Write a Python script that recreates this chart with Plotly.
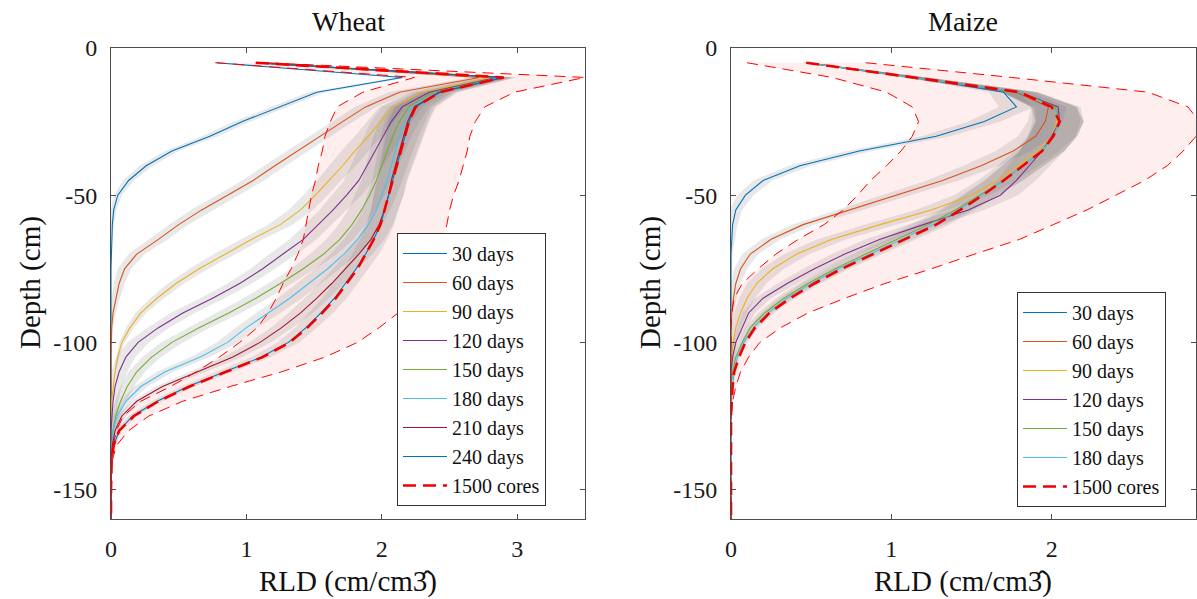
import plotly.graph_objects as go

# ---------------- data ----------------
depth = [-5, -10, -15, -20, -25, -30, -35, -40, -45, -50, -55, -60, -65, -70, -75, -80,
         -85, -90, -95, -100, -105, -110, -115, -120, -125, -130, -135, -140, -145, -150, -155, -160]

wheat_names = ["30 days", "60 days", "90 days", "120 days", "150 days", "180 days", "210 days", "240 days"]
maize_names = ["30 days", "60 days", "90 days", "120 days", "150 days", "180 days"]

w30 = [0.78, 2.15, 1.52, 1.24, 0.97, 0.73, 0.45, 0.26, 0.13, 0.05, 0.02, 0.01, 0.005, 0, 0, 0,
       0, 0, 0, 0, 0, 0, 0, 0, 0, 0, 0, 0, 0, 0, 0, 0]
w60 = [1.07, 2.72, 2.13, 1.88, 1.71, 1.54, 1.38, 1.21, 1.05, 0.86, 0.67, 0.50, 0.35, 0.19, 0.10, 0.06,
       0.035, 0.015, 0.005, 0, 0, 0, 0, 0, 0, 0, 0, 0, 0, 0, 0, 0]
w90 = [1.07, 2.80, 2.30, 2.08, 1.99, 1.90, 1.80, 1.71, 1.61, 1.51, 1.40, 1.25, 1.04, 0.84, 0.65, 0.48,
       0.34, 0.22, 0.14, 0.08, 0.05, 0.03, 0.015, 0.005, 0, 0, 0, 0, 0, 0, 0, 0]
w120 = [1.07, 2.85, 2.35, 2.15, 2.07, 2.01, 1.95, 1.89, 1.83, 1.74, 1.64, 1.53, 1.42, 1.27, 1.12, 0.95,
        0.75, 0.53, 0.35, 0.20, 0.11, 0.06, 0.03, 0.015, 0.005, 0, 0, 0, 0, 0, 0, 0]
w150 = [1.07, 2.87, 2.38, 2.20, 2.13, 2.08, 2.04, 2.00, 1.96, 1.91, 1.85, 1.78, 1.69, 1.57, 1.42, 1.25,
        1.07, 0.87, 0.65, 0.45, 0.30, 0.19, 0.12, 0.07, 0.035, 0.015, 0.005, 0, 0, 0, 0, 0]
w180 = [1.07, 2.88, 2.40, 2.22, 2.17, 2.13, 2.10, 2.07, 2.04, 2.00, 1.96, 1.90, 1.82, 1.72, 1.60, 1.46,
        1.32, 1.16, 1.00, 0.86, 0.66, 0.40, 0.22, 0.11, 0.045, 0.015, 0.005, 0, 0, 0, 0, 0]
w210 = [1.07, 2.90, 2.42, 2.24, 2.19, 2.16, 2.13, 2.10, 2.07, 2.05, 2.02, 1.98, 1.92, 1.83, 1.73, 1.63,
        1.52, 1.40, 1.26, 1.10, 0.90, 0.64, 0.38, 0.19, 0.08, 0.03, 0.01, 0, 0, 0, 0, 0]
w240 = [1.07, 2.90, 2.43, 2.25, 2.20, 2.17, 2.14, 2.11, 2.08, 2.05, 2.02, 1.99, 1.94, 1.88, 1.81, 1.73,
        1.65, 1.55, 1.44, 1.31, 1.11, 0.84, 0.57, 0.34, 0.16, 0.06, 0.02, 0.005, 0, 0, 0, 0]
w_cores = [1.07, 2.90, 2.43, 2.25, 2.20, 2.17, 2.14, 2.11, 2.08, 2.05, 2.02, 1.99, 1.94, 1.88, 1.82, 1.74,
           1.66, 1.56, 1.45, 1.32, 1.12, 0.85, 0.58, 0.35, 0.17, 0.06, 0.02, 0.005, 0, 0, 0, 0]
w_lo = [0.77, 2.24, 1.86, 1.67, 1.62, 1.58, 1.56, 1.53, 1.51, 1.48, 1.46, 1.44, 1.42, 1.38, 1.33, 1.27,
        1.22, 1.16, 1.08, 0.95, 0.80, 0.63, 0.44, 0.22, 0.09, 0.04, 0.015, 0.005, 0, 0, 0, 0]
w_hi = [1.15, 3.50, 2.98, 2.76, 2.69, 2.65, 2.63, 2.60, 2.57, 2.53, 2.50, 2.48, 2.45, 2.41, 2.36, 2.30,
        2.22, 2.12, 1.98, 1.82, 1.58, 1.26, 0.88, 0.53, 0.28, 0.13, 0.04, 0.01, 0, 0, 0, 0]

# spread (half-width of grey bands)
sd_w30 = [0.02, 0.05, 0.06, 0.06, 0.06, 0.06, 0.05, 0.05, 0.04, 0.03, 0.02, 0.01, 0.005, 0, 0, 0,
          0, 0, 0, 0, 0, 0, 0, 0, 0, 0, 0, 0, 0, 0, 0, 0]
sd_w60 = [0.02, 0.07, 0.08, 0.08, 0.08, 0.08, 0.08, 0.08, 0.08, 0.08, 0.08, 0.07, 0.07, 0.06, 0.05, 0.04,
          0.03, 0.02, 0.01, 0.005, 0, 0, 0, 0, 0, 0, 0, 0, 0, 0, 0, 0]
sd_w90 = [0.02, 0.08, 0.10, 0.10, 0.10, 0.10, 0.10, 0.10, 0.09, 0.09, 0.09, 0.09, 0.08, 0.08, 0.07, 0.06,
          0.05, 0.04, 0.03, 0.02, 0.01, 0.005, 0, 0, 0, 0, 0, 0, 0, 0, 0, 0]
sd_w_late = [0.02, 0.09, 0.13, 0.15, 0.15, 0.14, 0.13, 0.12, 0.11, 0.11, 0.10, 0.10, 0.10, 0.10, 0.09, 0.09,
             0.09, 0.09, 0.08, 0.08, 0.07, 0.06, 0.05, 0.04, 0.03, 0.02, 0.01, 0.005, 0, 0, 0, 0]

m30 = [0.47, 1.15, 1.70, 1.78, 1.58, 1.28, 0.80, 0.43, 0.20, 0.09, 0.03, 0.01, 0.005, 0, 0, 0,
       0, 0, 0, 0, 0, 0, 0, 0, 0, 0, 0, 0, 0, 0, 0, 0]
m60 = [0.47, 1.15, 1.78, 1.98, 1.96, 1.90, 1.76, 1.56, 1.32, 1.03, 0.74, 0.45, 0.25, 0.12, 0.06, 0.03,
       0.015, 0.005, 0, 0, 0, 0, 0, 0, 0, 0, 0, 0, 0, 0, 0, 0]
m90 = [0.47, 1.15, 1.80, 2.02, 2.03, 2.00, 1.91, 1.79, 1.66, 1.50, 1.25, 0.93, 0.63, 0.41, 0.26, 0.16,
       0.10, 0.06, 0.03, 0.015, 0.005, 0, 0, 0, 0, 0, 0, 0, 0, 0, 0, 0]
m120 = [0.47, 1.15, 1.80, 2.04, 2.05, 2.00, 1.94, 1.86, 1.78, 1.68, 1.48, 1.20, 0.93, 0.71, 0.52, 0.35,
        0.20, 0.11, 0.07, 0.03, 0.01, 0, 0, 0, 0, 0, 0, 0, 0, 0, 0, 0]
m150 = [0.47, 1.15, 1.80, 2.02, 2.05, 2.01, 1.94, 1.82, 1.70, 1.55, 1.40, 1.23, 1.03, 0.84, 0.65, 0.48,
        0.33, 0.21, 0.12, 0.07, 0.03, 0.01, 0, 0, 0, 0, 0, 0, 0, 0, 0, 0]
m180 = [0.47, 1.15, 1.80, 2.01, 2.05, 2.01, 1.94, 1.82, 1.70, 1.56, 1.42, 1.26, 1.06, 0.87, 0.67, 0.50,
        0.35, 0.23, 0.14, 0.08, 0.04, 0.02, 0.01, 0, 0, 0, 0, 0, 0, 0, 0, 0]
m_cores = [0.47, 1.15, 1.80, 2.00, 2.05, 2.01, 1.94, 1.82, 1.70, 1.57, 1.43, 1.28, 1.08, 0.89, 0.69, 0.52,
           0.37, 0.24, 0.15, 0.09, 0.05, 0.02, 0.01, 0.005, 0, 0, 0, 0, 0, 0, 0, 0]
m_lo = [0.10, 0.63, 0.97, 1.13, 1.17, 1.13, 1.06, 0.97, 0.87, 0.79, 0.70, 0.58, 0.42, 0.28, 0.17, 0.07,
        0.02, 0.005, 0, 0, 0, 0, 0, 0, 0, 0, 0, 0, 0, 0, 0, 0]
m_hi = [0.84, 1.75, 2.60, 2.85, 2.92, 2.90, 2.82, 2.72, 2.58, 2.40, 2.22, 2.01, 1.80, 1.52, 1.25, 0.96,
        0.71, 0.48, 0.31, 0.18, 0.11, 0.06, 0.03, 0.01, 0, 0, 0, 0, 0, 0, 0, 0]

sd_m30 = [0.02, 0.06, 0.09, 0.11, 0.10, 0.09, 0.08, 0.07, 0.06, 0.05, 0.04, 0.03, 0.02, 0.01, 0.005, 0,
          0, 0, 0, 0, 0, 0, 0, 0, 0, 0, 0, 0, 0, 0, 0, 0]
sd_m60 = [0.02, 0.06, 0.09, 0.11, 0.11, 0.11, 0.11, 0.11, 0.10, 0.09, 0.08, 0.07, 0.06, 0.05, 0.04, 0.03,
          0.02, 0.01, 0.005, 0, 0, 0, 0, 0, 0, 0, 0, 0, 0, 0, 0, 0]
sd_m_late = [0.02, 0.07, 0.11, 0.14, 0.15, 0.15, 0.14, 0.13, 0.12, 0.11, 0.10, 0.10, 0.09, 0.08, 0.07, 0.06,
             0.05, 0.04, 0.03, 0.02, 0.015, 0.01, 0.005, 0, 0, 0, 0, 0, 0, 0, 0, 0]

x_ticks_wheat = [0, 1, 2, 3]
x_ticks_maize = [0, 1, 2]
y_ticks = [0, -50, -100, -150]
y_ticklabels = ["0", "-50", "-100", "-150"]

# ---------------- style ----------------
COLORS = ["#0072BD", "#D95319", "#EDB120", "#7E2F8E", "#77AC30", "#4DBEEE", "#A2142F", "#0072BD"]
FONT = "'Liberation Serif', 'Times New Roman', serif"
AXC = "#4d4d4d"
W, H = 1197, 599

fig = go.Figure()


def add_panel(series, names, sds, lo, hi, cores, xa, ya, legend):
    # pink envelope
    fig.add_trace(go.Scatter(x=hi + lo[::-1], y=depth + depth[::-1], mode="lines",
                             fill="toself", fillcolor="rgba(255,0,0,0.065)",
                             line=dict(width=0), showlegend=False, hoverinfo="skip",
                             xaxis=xa, yaxis=ya))
    # grey spread bands
    for v, s in zip(series, sds):
        up = [a + b for a, b in zip(v, s)]
        dn = [a - b for a, b in zip(v, s)]
        fig.add_trace(go.Scatter(x=up + dn[::-1], y=depth + depth[::-1], mode="lines",
                                 fill="toself", fillcolor="rgba(110,110,110,0.16)",
                                 line=dict(width=0), showlegend=False, hoverinfo="skip",
                                 xaxis=xa, yaxis=ya))
    # simulated lines
    for v, n, c in zip(series, names, COLORS):
        fig.add_trace(go.Scatter(x=v, y=depth, mode="lines", name=n,
                                 line=dict(color=c, width=1.1), xaxis=xa, yaxis=ya,
                                 legend=legend))
    # envelope bounds
    for b in (lo, hi):
        fig.add_trace(go.Scatter(x=b, y=depth, mode="lines", showlegend=False,
                                 line=dict(color="#FF0000", width=1, dash="11px,7px"),
                                 xaxis=xa, yaxis=ya))
    # measured mean
    fig.add_trace(go.Scatter(x=cores, y=depth, mode="lines", name="1500 cores",
                             line=dict(color="#F00000", width=2.6, dash="13px,7px"),
                             xaxis=xa, yaxis=ya, legend=legend))


add_panel([w30, w60, w90, w120, w150, w180, w210, w240], wheat_names,
          [sd_w30, sd_w60, sd_w90, sd_w_late, sd_w_late, sd_w_late, sd_w_late, sd_w_late],
          w_lo, w_hi, w_cores, "x", "y", "legend")
add_panel([m30, m60, m90, m120, m150, m180], maize_names,
          [sd_m30, sd_m60, sd_m_late, sd_m_late, sd_m_late, sd_m_late],
          m_lo, m_hi, m_cores, "x2", "y2", "legend2")

axis_common = dict(showgrid=False, zeroline=False, showline=True, linecolor=AXC, linewidth=1,
                   mirror="ticks", ticks="inside", ticklen=5, tickwidth=1, tickcolor=AXC,
                   automargin=False,
                   tickfont=dict(family=FONT, size=24, color="#1a1a1a"))

legend_common = dict(xanchor="left", yanchor="top", bgcolor="white", bordercolor="#333333",
                     borderwidth=1, itemwidth=44, tracegroupgap=0,
                     font=dict(family=FONT, size=20, color="#111111"))

fig.update_layout(
    template="none",
    width=W, height=H, plot_bgcolor="white", paper_bgcolor="white",
    margin=dict(l=0, r=0, t=0, b=0, pad=0), autosize=False,
    font=dict(family=FONT, color="#111111"),
    xaxis=dict(domain=[111 / W, 585 / W], range=[0, 3.5], tickvals=x_ticks_wheat,
               ticktext=[str(t) for t in x_ticks_wheat], anchor="y", ticklabelstandoff=8,
               **axis_common),
    yaxis=dict(domain=[1 - 519 / H, 1 - 48 / H], range=[-160, 0], tickvals=y_ticks,
               ticktext=y_ticklabels, anchor="x", ticklabelstandoff=8, **axis_common),
    xaxis2=dict(domain=[731 / W, 1196 / W], range=[0, 2.9], tickvals=x_ticks_maize,
                ticktext=[str(t) for t in x_ticks_maize], anchor="y2", ticklabelstandoff=8,
                **axis_common),
    yaxis2=dict(domain=[1 - 519 / H, 1 - 48 / H], range=[-160, 0], tickvals=y_ticks,
                ticktext=y_ticklabels, anchor="x2", ticklabelstandoff=8, **axis_common),
    legend=dict(x=397 / W, y=1 - 233 / H, **legend_common),
    legend2=dict(x=1017 / W, y=1 - 292 / H, **legend_common),
    showlegend=True,
)

title_font = dict(family=FONT, size=28, color="#111111")
label_font = dict(family=FONT, size=29, color="#111111")
annotations = [
    dict(text="Wheat", x=348 / W, y=1 - 22 / H, font=title_font),
    dict(text="Maize", x=963 / W, y=1 - 22 / H, font=title_font),
    dict(text="RLD (cm/cm3\u0302)", x=348 / W, y=1 - 581 / H, font=label_font),
    dict(text="RLD (cm/cm3\u0302)", x=963 / W, y=1 - 581 / H, font=label_font),
    dict(text="Depth (cm)", x=30 / W, y=1 - 283 / H, textangle=-90, font=label_font),
    dict(text="Depth (cm)", x=650 / W, y=1 - 283 / H, textangle=-90, font=label_font),
]
for a in annotations:
    fig.add_annotation(xref="paper", yref="paper", xanchor="center", yanchor="middle",
                       showarrow=False, **a)

fig.write_html("out.html")
